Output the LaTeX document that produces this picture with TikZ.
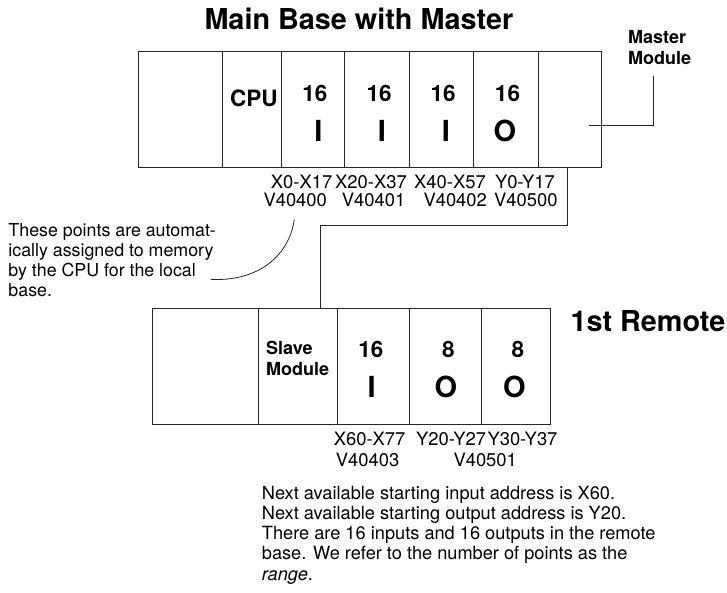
\documentclass[tikz,border=0pt]{standalone}
\usepackage{fontspec}
\setmainfont{TeX Gyre Heros}
\begin{document}
\begin{tikzpicture}[x=1pt,y=-1pt,
  cell/.style={draw=black!85, line width=1pt, inner sep=0pt, anchor=north west},
  wire/.style={draw=black!85, line width=1pt},
  ttl/.style={inner sep=0pt, anchor=base west, font=\bfseries\fontsize{28.8}{28.8}\selectfont},
  small/.style={inner sep=0pt, anchor=base west, font=\bfseries\fontsize{18}{18}\selectfont},
  num/.style={inner sep=0pt, anchor=base, font=\bfseries\fontsize{22.5}{22.5}\selectfont},
  io/.style={inner sep=0pt, anchor=base, font=\bfseries\fontsize{29}{29}\selectfont},
  lab/.style={inner sep=0pt, anchor=base west, font=\fontsize{18.4}{18.4}\selectfont},
  note/.style={inner sep=0pt, anchor=base west, font=\fontsize{17.8}{17.8}\selectfont},
  para/.style={inner sep=0pt, anchor=base west, font=\fontsize{18.2}{18.2}\selectfont}]
\useasboundingbox (0,0) rectangle (727,592);

% Title
\node[ttl] (title) at (204.3,29.3) {Main Base with Master};

% Main base cells
\node[cell, minimum width=84pt, minimum height=116pt] (m0) at (138,51) {};
\node[cell, minimum width=59pt, minimum height=116pt] (mcpu) at (222,51) {};
\node[cell, minimum width=63pt, minimum height=116pt] (m1) at (281,51) {};
\node[cell, minimum width=65pt, minimum height=116pt] (m2) at (344,51) {};
\node[cell, minimum width=64pt, minimum height=116pt] (m3) at (409,51) {};
\node[cell, minimum width=65pt, minimum height=116pt] (m4) at (473,51) {};
\node[cell, minimum width=63pt, minimum height=116pt] (mm) at (538,51) {};

% Main base texts
\node[num] (tcpu) at (253.9,106) {CPU};
\node[num] (n1) at (314.8,101.7) {16};
\node[num] (n2) at (379.2,101.7) {16};
\node[num] (n3) at (443.2,101.7) {16};
\node[num] (n4) at (507.5,101.7) {16};
\node[io] (i1) at (318.3,141) {I};
\node[io] (i2) at (382,141) {I};
\node[io] (i3) at (445.8,141) {I};
\node[io] (o4) at (505,141) {O};

% Master module label and leader
\node[small] (mml1) at (628,43.3) {Master};
\node[small] (mml2) at (628,64) {Module};
\coordinate (ml1) at (589.3,125);
\coordinate (ml2) at (653.7,76);
\draw[wire] (ml1) -| (ml2);

% Main address labels
\node[lab] (a1) at (270.7,188.3) {X0-X17};
\node[lab] (a2) at (335,188.3) {X20-X37};
\node[lab] (a3) at (414,188.3) {X40-X57};
\node[lab] (a4) at (495,188.3) {Y0-Y17};
\node[lab] (v1) at (263.3,206.7) {V40400};
\node[lab] (v2) at (341.7,206.7) {V40401};
\node[lab] (v3) at (423.3,206.7) {V40402};
\node[lab] (v4) at (494,206.7) {V40500};

% Annotation
\node[note] (an1) at (8.3,236) {These points are automat-};
\node[note] (an2) at (8.3,256.2) {ically assigned to memory};
\node[note] (an3) at (8.3,276.4) {by the CPU for the local};
\node[note] (an4) at (8.3,296.6) {base.};
\coordinate (cv1) at (294.3,219.3);
\coordinate (cv2) at (210.7,279.3);
\draw[wire, line width=0.8pt] (cv1) .. controls (289,258) and (255,282) .. (cv2);

% Remote cells
\node[cell, minimum width=105.7pt, minimum height=116.6pt] (r0) at (152,307.7) {};
\node[cell, minimum width=79.5pt, minimum height=116.6pt] (rs) at (257.7,307.7) {};
\node[cell, minimum width=71.8pt, minimum height=116.6pt] (r1) at (337.2,307.7) {};
\node[cell, minimum width=71.7pt, minimum height=116.6pt] (r2) at (409,307.7) {};
\node[cell, minimum width=69pt, minimum height=116.6pt] (r3) at (480.7,307.7) {};

% Connector main -> remote
\coordinate (c1) at (567.7,167);
\coordinate (bend) at (450,225.7);
\coordinate (c2) at (320,307.7);
\draw[wire] (c1) |- (bend) -| (c2);

% Remote texts
\node[small] (sl1) at (266,354) {Slave};
\node[small] (sl2) at (266,375) {Module};
\node[num] (rn1) at (370.8,357.7) {16};
\node[num] (rn2) at (448.3,357.7) {8};
\node[num] (rn3) at (517.8,357.7) {8};
\node[io] (ri1) at (371.7,397.7) {I};
\node[io] (ro2) at (446,397.7) {O};
\node[io] (ro3) at (514.5,397.7) {O};
\node[ttl] (remote) at (570.3,331) {1st Remote};

% Remote address labels
\node[lab] (ra1) at (333.6,445) {X60-X77};
\node[lab] (ra2) at (416,445) {Y20-Y27};
\node[lab] (ra3) at (487.3,445) {Y30-Y37};
\node[lab] (rv1) at (335.7,466) {V40403};
\node[lab] (rv2) at (453.3,466) {V40501};

% Bottom paragraph
\node[para] (p1) at (261.7,499) {Next available starting input address is X60.};
\node[para] (p2) at (261.7,519.3) {Next available starting output address is Y20.};
\node[para] (p3) at (261.7,539.6) {There are 16 inputs and 16 outputs in the remote};
\node[para] (p4) at (261.7,559.9) {base. We refer to the number of points as the};
\node[para] (p5) at (261.7,580.2) {\textit{range}.};
\end{tikzpicture}
\end{document}
